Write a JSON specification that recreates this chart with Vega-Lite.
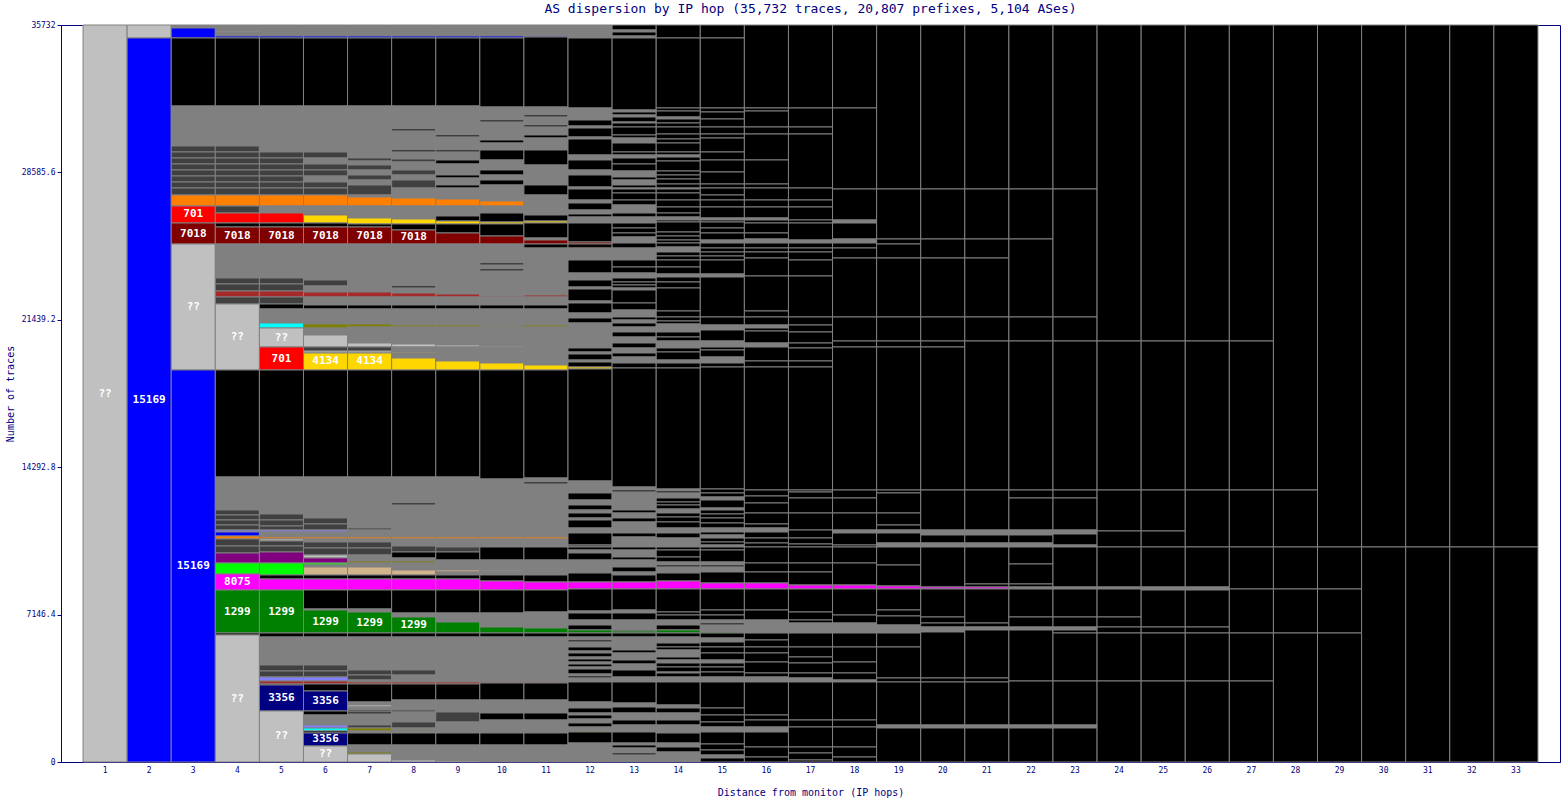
{
"$schema":"https://vega.github.io/schema/vega-lite/v6.json",
"width":1499,"height":737,
"autosize":{"type":"none"},
"padding":{"left":61,"top":25,"right":2,"bottom":38},
"background":"white",
"title":{"text":"AS dispersion by IP hop (35,732 traces, 20,807 prefixes, 5,104 ASes)","font":"DejaVu Sans Mono","fontSize":13,"fontWeight":"normal","color":"#000080","offset":5},
"config":{"view":{"stroke":"#000080","strokeWidth":1},"axis":{"labelFont":"DejaVu Sans Mono","titleFont":"DejaVu Sans Mono","labelColor":"#000080","titleColor":"#000080","domainColor":"#000080","tickColor":"#000080","titleFontWeight":"normal","grid":false}},
"datasets":{"d":[
{"h":1,"a":0,"b":35732,"c":"L","t":"??"},
{"h":2,"a":35102,"b":35732,"c":"L"},{"h":2,"a":0,"b":35102,"c":"B","t":"15169"},
{"h":3,"a":35587,"b":35732,"c":"G"},{"h":3,"a":35102,"b":35587,"c":"B"},{"h":3,"a":31805,"b":35102,"c":"K"},{"h":3,"a":29866,"b":31805,"c":"G"},{"h":3,"a":29575,"b":29866,"c":"D"},{"h":3,"a":29284,"b":29575,"c":"D"},{"h":3,"a":28993,"b":29284,"c":"D"},{"h":3,"a":28702,"b":28993,"c":"D"},{"h":3,"a":28411,"b":28702,"c":"D"},{"h":3,"a":28120,"b":28411,"c":"D"},{"h":3,"a":27829,"b":28120,"c":"D"},{"h":3,"a":27490,"b":27829,"c":"D"},{"h":3,"a":26957,"b":27490,"c":"O"},{"h":3,"a":26132,"b":26957,"c":"R","t":"701"},{"h":3,"a":25114,"b":26132,"c":"M","t":"7018"},{"h":3,"a":19005,"b":25114,"c":"L","t":"??"},{"h":3,"a":0,"b":19005,"c":"B","t":"15169"},
{"h":4,"a":35441,"b":35732,"c":"G"},{"h":4,"a":35393,"b":35441,"c":"L"},{"h":4,"a":35199,"b":35393,"c":"G"},{"h":4,"a":35102,"b":35199,"c":"B"},{"h":4,"a":31805,"b":35102,"c":"K"},{"h":4,"a":29866,"b":31805,"c":"G"},{"h":4,"a":29575,"b":29866,"c":"D"},{"h":4,"a":29284,"b":29575,"c":"D"},{"h":4,"a":28993,"b":29284,"c":"D"},{"h":4,"a":28702,"b":28993,"c":"D"},{"h":4,"a":28411,"b":28702,"c":"D"},{"h":4,"a":28120,"b":28411,"c":"D"},{"h":4,"a":27829,"b":28120,"c":"D"},{"h":4,"a":27490,"b":27829,"c":"D"},{"h":4,"a":26957,"b":27490,"c":"O"},{"h":4,"a":26617,"b":26957,"c":"D"},{"h":4,"a":26132,"b":26617,"c":"R"},{"h":4,"a":25938,"b":26132,"c":"K"},{"h":4,"a":25114,"b":25938,"c":"M","t":"7018"},{"h":4,"a":23466,"b":25114,"c":"G"},{"h":4,"a":23175,"b":23466,"c":"D"},{"h":4,"a":22836,"b":23175,"c":"D"},{"h":4,"a":22545,"b":22836,"c":"Br"},{"h":4,"a":22205,"b":22545,"c":"D"},{"h":4,"a":19005,"b":22205,"c":"L","t":"??"},{"h":4,"a":13818,"b":19005,"c":"K"},{"h":4,"a":12218,"b":13818,"c":"G"},{"h":4,"a":11975,"b":12218,"c":"D"},{"h":4,"a":11733,"b":11975,"c":"D"},{"h":4,"a":11490,"b":11733,"c":"D"},{"h":4,"a":11248,"b":11490,"c":"D"},{"h":4,"a":11151,"b":11248,"c":"S"},{"h":4,"a":10957,"b":11151,"c":"B"},{"h":4,"a":10812,"b":10957,"c":"O"},{"h":4,"a":10472,"b":10812,"c":"D"},{"h":4,"a":10133,"b":10472,"c":"D"},{"h":4,"a":9648,"b":10133,"c":"P"},{"h":4,"a":9115,"b":9648,"c":"Li"},{"h":4,"a":8339,"b":9115,"c":"Mg","t":"8075"},{"h":4,"a":6254,"b":8339,"c":"Gr","t":"1299"},{"h":4,"a":6157,"b":6254,"c":"K"},{"h":4,"a":0,"b":6157,"c":"L","t":"??"},
{"h":5,"a":35199,"b":35732,"c":"G"},{"h":5,"a":35102,"b":35199,"c":"B"},{"h":5,"a":31805,"b":35102,"c":"K"},{"h":5,"a":29866,"b":31805,"c":"G"},{"h":5,"a":29575,"b":29866,"c":"G"},{"h":5,"a":29284,"b":29575,"c":"D"},{"h":5,"a":28993,"b":29284,"c":"D"},{"h":5,"a":28702,"b":28993,"c":"D"},{"h":5,"a":28411,"b":28702,"c":"D"},{"h":5,"a":28120,"b":28411,"c":"D"},{"h":5,"a":27829,"b":28120,"c":"D"},{"h":5,"a":27490,"b":27829,"c":"D"},{"h":5,"a":26957,"b":27490,"c":"O"},{"h":5,"a":26617,"b":26957,"c":"G"},{"h":5,"a":26132,"b":26617,"c":"R"},{"h":5,"a":25938,"b":26132,"c":"K"},{"h":5,"a":25114,"b":25938,"c":"M","t":"7018"},{"h":5,"a":23466,"b":25114,"c":"G"},{"h":5,"a":23175,"b":23466,"c":"D"},{"h":5,"a":22836,"b":23175,"c":"D"},{"h":5,"a":22545,"b":22836,"c":"Br"},{"h":5,"a":22205,"b":22545,"c":"D"},{"h":5,"a":21963,"b":22205,"c":"K"},{"h":5,"a":21284,"b":21963,"c":"G"},{"h":5,"a":21042,"b":21284,"c":"C"},{"h":5,"a":20120,"b":21042,"c":"L","t":"??"},{"h":5,"a":19005,"b":20120,"c":"R","t":"701"},{"h":5,"a":13818,"b":19005,"c":"K"},{"h":5,"a":12024,"b":13818,"c":"G"},{"h":5,"a":11733,"b":12024,"c":"D"},{"h":5,"a":11442,"b":11733,"c":"D"},{"h":5,"a":11248,"b":11442,"c":"D"},{"h":5,"a":11151,"b":11248,"c":"S"},{"h":5,"a":10909,"b":11151,"c":"G"},{"h":5,"a":10812,"b":10909,"c":"O"},{"h":5,"a":10715,"b":10812,"c":"L"},{"h":5,"a":10472,"b":10715,"c":"D"},{"h":5,"a":10181,"b":10472,"c":"D"},{"h":5,"a":9648,"b":10181,"c":"P"},{"h":5,"a":9066,"b":9648,"c":"Li"},{"h":5,"a":8872,"b":9066,"c":"K"},{"h":5,"a":8339,"b":8872,"c":"Mg"},{"h":5,"a":6254,"b":8339,"c":"Gr","t":"1299"},{"h":5,"a":6060,"b":6254,"c":"K"},{"h":5,"a":4703,"b":6060,"c":"G"},{"h":5,"a":4412,"b":4703,"c":"D"},{"h":5,"a":4121,"b":4412,"c":"D"},{"h":5,"a":3927,"b":4121,"c":"S"},{"h":5,"a":3782,"b":3927,"c":"Br"},{"h":5,"a":3733,"b":3782,"c":"K"},{"h":5,"a":2473,"b":3733,"c":"N","t":"3356"},{"h":5,"a":0,"b":2473,"c":"L","t":"??"},
{"h":6,"a":35199,"b":35732,"c":"G"},{"h":6,"a":35102,"b":35199,"c":"B"},{"h":6,"a":31805,"b":35102,"c":"K"},{"h":6,"a":29866,"b":31805,"c":"G"},{"h":6,"a":29575,"b":29866,"c":"G"},{"h":6,"a":29284,"b":29575,"c":"D"},{"h":6,"a":28993,"b":29284,"c":"G"},{"h":6,"a":28702,"b":28993,"c":"D"},{"h":6,"a":28411,"b":28702,"c":"D"},{"h":6,"a":28120,"b":28411,"c":"G"},{"h":6,"a":27829,"b":28120,"c":"D"},{"h":6,"a":27490,"b":27829,"c":"D"},{"h":6,"a":26957,"b":27490,"c":"O"},{"h":6,"a":26569,"b":26957,"c":"G"},{"h":6,"a":26520,"b":26569,"c":"Br"},{"h":6,"a":26132,"b":26520,"c":"Y"},{"h":6,"a":25938,"b":26132,"c":"K"},{"h":6,"a":25114,"b":25938,"c":"M","t":"7018"},{"h":6,"a":23369,"b":25114,"c":"G"},{"h":6,"a":23078,"b":23369,"c":"D"},{"h":6,"a":22787,"b":23078,"c":"G"},{"h":6,"a":22545,"b":22787,"c":"Br"},{"h":6,"a":22157,"b":22545,"c":"G"},{"h":6,"a":21963,"b":22157,"c":"K"},{"h":6,"a":21236,"b":21963,"c":"G"},{"h":6,"a":21042,"b":21236,"c":"Ol"},{"h":6,"a":20702,"b":21042,"c":"G"},{"h":6,"a":20120,"b":20702,"c":"L"},{"h":6,"a":19927,"b":20120,"c":"D"},{"h":6,"a":19830,"b":19927,"c":"L"},{"h":6,"a":19005,"b":19830,"c":"Y","t":"4134"},{"h":6,"a":13818,"b":19005,"c":"K"},{"h":6,"a":11830,"b":13818,"c":"G"},{"h":6,"a":11539,"b":11830,"c":"D"},{"h":6,"a":11248,"b":11539,"c":"D"},{"h":6,"a":11151,"b":11248,"c":"S"},{"h":6,"a":10909,"b":11151,"c":"G"},{"h":6,"a":10812,"b":10909,"c":"O"},{"h":6,"a":10666,"b":10812,"c":"G"},{"h":6,"a":10375,"b":10666,"c":"D"},{"h":6,"a":10036,"b":10375,"c":"D"},{"h":6,"a":9891,"b":10036,"c":"L"},{"h":6,"a":9648,"b":9891,"c":"P"},{"h":6,"a":9551,"b":9648,"c":"Li"},{"h":6,"a":9454,"b":9551,"c":"G"},{"h":6,"a":9066,"b":9454,"c":"T"},{"h":6,"a":8872,"b":9066,"c":"K"},{"h":6,"a":8339,"b":8872,"c":"Mg"},{"h":6,"a":7418,"b":8339,"c":"K"},{"h":6,"a":7369,"b":7418,"c":"G"},{"h":6,"a":6254,"b":7369,"c":"Gr","t":"1299"},{"h":6,"a":6060,"b":6254,"c":"K"},{"h":6,"a":4703,"b":6060,"c":"G"},{"h":6,"a":4412,"b":4703,"c":"D"},{"h":6,"a":4121,"b":4412,"c":"D"},{"h":6,"a":3927,"b":4121,"c":"S"},{"h":6,"a":3782,"b":3927,"c":"Br"},{"h":6,"a":3442,"b":3782,"c":"K"},{"h":6,"a":2473,"b":3442,"c":"N","t":"3356"},{"h":6,"a":2279,"b":2473,"c":"K"},{"h":6,"a":1794,"b":2279,"c":"G"},{"h":6,"a":1648,"b":1794,"c":"S"},{"h":6,"a":1503,"b":1648,"c":"C"},{"h":6,"a":1406,"b":1503,"c":"K"},{"h":6,"a":776,"b":1406,"c":"N","t":"3356"},{"h":6,"a":0,"b":776,"c":"L","t":"??"},
{"h":7,"a":35199,"b":35732,"c":"G"},{"h":7,"a":35102,"b":35199,"c":"B"},{"h":7,"a":31805,"b":35102,"c":"K"},{"h":7,"a":29866,"b":31805,"c":"G"},{"h":7,"a":29284,"b":29866,"c":"G"},{"h":7,"a":29138,"b":29284,"c":"D"},{"h":7,"a":28944,"b":29138,"c":"G"},{"h":7,"a":28702,"b":28944,"c":"D"},{"h":7,"a":28460,"b":28702,"c":"G"},{"h":7,"a":28217,"b":28460,"c":"D"},{"h":7,"a":27975,"b":28217,"c":"G"},{"h":7,"a":27490,"b":27975,"c":"D"},{"h":7,"a":27393,"b":27490,"c":"G"},{"h":7,"a":26957,"b":27393,"c":"O"},{"h":7,"a":26375,"b":26957,"c":"G"},{"h":7,"a":26084,"b":26375,"c":"Y"},{"h":7,"a":25938,"b":26084,"c":"K"},{"h":7,"a":25114,"b":25938,"c":"M","t":"7018"},{"h":7,"a":22787,"b":25114,"c":"G"},{"h":7,"a":22545,"b":22787,"c":"Br"},{"h":7,"a":22157,"b":22545,"c":"G"},{"h":7,"a":21963,"b":22157,"c":"K"},{"h":7,"a":21236,"b":21963,"c":"G"},{"h":7,"a":21090,"b":21236,"c":"Ol"},{"h":7,"a":20314,"b":21090,"c":"G"},{"h":7,"a":20120,"b":20314,"c":"L"},{"h":7,"a":19927,"b":20120,"c":"D"},{"h":7,"a":19830,"b":19927,"c":"L"},{"h":7,"a":19005,"b":19830,"c":"Y","t":"4134"},{"h":7,"a":13818,"b":19005,"c":"K"},{"h":7,"a":11345,"b":13818,"c":"G"},{"h":7,"a":11248,"b":11345,"c":"D"},{"h":7,"a":10909,"b":11248,"c":"G"},{"h":7,"a":10812,"b":10909,"c":"O"},{"h":7,"a":10666,"b":10812,"c":"G"},{"h":7,"a":10375,"b":10666,"c":"D"},{"h":7,"a":10036,"b":10375,"c":"D"},{"h":7,"a":9745,"b":10036,"c":"G"},{"h":7,"a":9648,"b":9745,"c":"Ol"},{"h":7,"a":9454,"b":9648,"c":"G"},{"h":7,"a":9066,"b":9454,"c":"T"},{"h":7,"a":8872,"b":9066,"c":"K"},{"h":7,"a":8339,"b":8872,"c":"Mg"},{"h":7,"a":7418,"b":8339,"c":"K"},{"h":7,"a":7272,"b":7418,"c":"G"},{"h":7,"a":6254,"b":7272,"c":"Gr","t":"1299"},{"h":7,"a":6060,"b":6254,"c":"K"},{"h":7,"a":4460,"b":6060,"c":"G"},{"h":7,"a":4218,"b":4460,"c":"D"},{"h":7,"a":3976,"b":4218,"c":"D"},{"h":7,"a":3879,"b":3976,"c":"G"},{"h":7,"a":3782,"b":3879,"c":"Br"},{"h":7,"a":2909,"b":3782,"c":"K"},{"h":7,"a":2764,"b":2909,"c":"G"},{"h":7,"a":2667,"b":2764,"c":"L"},{"h":7,"a":2521,"b":2667,"c":"G"},{"h":7,"a":2424,"b":2521,"c":"D"},{"h":7,"a":2327,"b":2424,"c":"K"},{"h":7,"a":1794,"b":2327,"c":"G"},{"h":7,"a":1648,"b":1794,"c":"D"},{"h":7,"a":1503,"b":1648,"c":"Ol"},{"h":7,"a":1406,"b":1503,"c":"G"},{"h":7,"a":824,"b":1406,"c":"K"},{"h":7,"a":485,"b":824,"c":"G"},{"h":7,"a":388,"b":485,"c":"Ol"},{"h":7,"a":0,"b":388,"c":"L"},
{"h":8,"a":35199,"b":35732,"c":"G"},{"h":8,"a":35102,"b":35199,"c":"B"},{"h":8,"a":31805,"b":35102,"c":"K"},{"h":8,"a":30690,"b":31805,"c":"G"},{"h":8,"a":30593,"b":30690,"c":"K"},{"h":8,"a":29672,"b":30593,"c":"G"},{"h":8,"a":29575,"b":29672,"c":"K"},{"h":8,"a":29235,"b":29575,"c":"G"},{"h":8,"a":29090,"b":29235,"c":"D"},{"h":8,"a":28702,"b":29090,"c":"G"},{"h":8,"a":28460,"b":28702,"c":"D"},{"h":8,"a":28217,"b":28460,"c":"G"},{"h":8,"a":27829,"b":28217,"c":"D"},{"h":8,"a":27344,"b":27829,"c":"G"},{"h":8,"a":26957,"b":27344,"c":"O"},{"h":8,"a":26326,"b":26957,"c":"G"},{"h":8,"a":26084,"b":26326,"c":"Y"},{"h":8,"a":25793,"b":26084,"c":"K"},{"h":8,"a":25114,"b":25793,"c":"M","t":"7018"},{"h":8,"a":23078,"b":25114,"c":"G"},{"h":8,"a":22981,"b":23078,"c":"K"},{"h":8,"a":22739,"b":22981,"c":"G"},{"h":8,"a":22545,"b":22739,"c":"Br"},{"h":8,"a":22157,"b":22545,"c":"G"},{"h":8,"a":21963,"b":22157,"c":"K"},{"h":8,"a":21187,"b":21963,"c":"G"},{"h":8,"a":21090,"b":21187,"c":"Ol"},{"h":8,"a":20266,"b":21090,"c":"G"},{"h":8,"a":20120,"b":20266,"c":"L"},{"h":8,"a":19878,"b":20120,"c":"G"},{"h":8,"a":19830,"b":19878,"c":"Y"},{"h":8,"a":19587,"b":19830,"c":"G"},{"h":8,"a":19005,"b":19587,"c":"Y"},{"h":8,"a":13818,"b":19005,"c":"K"},{"h":8,"a":12557,"b":13818,"c":"G"},{"h":8,"a":12460,"b":12557,"c":"K"},{"h":8,"a":10909,"b":12460,"c":"G"},{"h":8,"a":10812,"b":10909,"c":"O"},{"h":8,"a":10472,"b":10812,"c":"G"},{"h":8,"a":10181,"b":10472,"c":"D"},{"h":8,"a":9891,"b":10181,"c":"K"},{"h":8,"a":9745,"b":9891,"c":"G"},{"h":8,"a":9648,"b":9745,"c":"Ol"},{"h":8,"a":9309,"b":9648,"c":"G"},{"h":8,"a":9066,"b":9309,"c":"T"},{"h":8,"a":8872,"b":9066,"c":"K"},{"h":8,"a":8339,"b":8872,"c":"Mg"},{"h":8,"a":7224,"b":8339,"c":"K"},{"h":8,"a":7030,"b":7224,"c":"G"},{"h":8,"a":6254,"b":7030,"c":"Gr","t":"1299"},{"h":8,"a":6060,"b":6254,"c":"K"},{"h":8,"a":4460,"b":6060,"c":"G"},{"h":8,"a":4218,"b":4460,"c":"D"},{"h":8,"a":3879,"b":4218,"c":"G"},{"h":8,"a":3782,"b":3879,"c":"Br"},{"h":8,"a":3006,"b":3782,"c":"K"},{"h":8,"a":2521,"b":3006,"c":"G"},{"h":8,"a":2424,"b":2521,"c":"D"},{"h":8,"a":1939,"b":2424,"c":"G"},{"h":8,"a":1648,"b":1939,"c":"D"},{"h":8,"a":1551,"b":1648,"c":"G"},{"h":8,"a":1503,"b":1551,"c":"Ol"},{"h":8,"a":1406,"b":1503,"c":"G"},{"h":8,"a":824,"b":1406,"c":"K"},{"h":8,"a":97,"b":824,"c":"G"},{"h":8,"a":0,"b":97,"c":"L"},
{"h":9,"a":35199,"b":35732,"c":"G"},{"h":9,"a":35102,"b":35199,"c":"B"},{"h":9,"a":31805,"b":35102,"c":"K"},{"h":9,"a":30399,"b":31805,"c":"G"},{"h":9,"a":30302,"b":30399,"c":"K"},{"h":9,"a":29672,"b":30302,"c":"G"},{"h":9,"a":29575,"b":29672,"c":"K"},{"h":9,"a":29187,"b":29575,"c":"G"},{"h":9,"a":28993,"b":29187,"c":"K"},{"h":9,"a":28460,"b":28993,"c":"G"},{"h":9,"a":28314,"b":28460,"c":"K"},{"h":9,"a":27975,"b":28314,"c":"G"},{"h":9,"a":27829,"b":27975,"c":"K"},{"h":9,"a":27296,"b":27829,"c":"G"},{"h":9,"a":26957,"b":27296,"c":"O"},{"h":9,"a":26472,"b":26957,"c":"G"},{"h":9,"a":26229,"b":26472,"c":"K"},{"h":9,"a":26084,"b":26229,"c":"Y"},{"h":9,"a":25648,"b":26084,"c":"K"},{"h":9,"a":25114,"b":25648,"c":"M"},{"h":9,"a":22690,"b":25114,"c":"G"},{"h":9,"a":22545,"b":22690,"c":"Br"},{"h":9,"a":22157,"b":22545,"c":"G"},{"h":9,"a":21963,"b":22157,"c":"K"},{"h":9,"a":21187,"b":21963,"c":"G"},{"h":9,"a":21090,"b":21187,"c":"Ol"},{"h":9,"a":20217,"b":21090,"c":"G"},{"h":9,"a":20120,"b":20217,"c":"L"},{"h":9,"a":19442,"b":20120,"c":"G"},{"h":9,"a":19005,"b":19442,"c":"Y"},{"h":9,"a":13818,"b":19005,"c":"K"},{"h":9,"a":10909,"b":13818,"c":"G"},{"h":9,"a":10812,"b":10909,"c":"O"},{"h":9,"a":10424,"b":10812,"c":"G"},{"h":9,"a":10181,"b":10424,"c":"D"},{"h":9,"a":9794,"b":10181,"c":"K"},{"h":9,"a":9309,"b":9794,"c":"G"},{"h":9,"a":9212,"b":9309,"c":"T"},{"h":9,"a":9066,"b":9212,"c":"G"},{"h":9,"a":8872,"b":9066,"c":"K"},{"h":9,"a":8339,"b":8872,"c":"Mg"},{"h":9,"a":7224,"b":8339,"c":"K"},{"h":9,"a":6788,"b":7224,"c":"G"},{"h":9,"a":6254,"b":6788,"c":"Gr"},{"h":9,"a":6060,"b":6254,"c":"K"},{"h":9,"a":3879,"b":6060,"c":"G"},{"h":9,"a":3782,"b":3879,"c":"Br"},{"h":9,"a":3006,"b":3782,"c":"K"},{"h":9,"a":2424,"b":3006,"c":"G"},{"h":9,"a":1939,"b":2424,"c":"D"},{"h":9,"a":1406,"b":1939,"c":"G"},{"h":9,"a":824,"b":1406,"c":"K"},{"h":9,"a":48,"b":824,"c":"G"},{"h":9,"a":0,"b":48,"c":"L"},
{"h":10,"a":35199,"b":35732,"c":"G"},{"h":10,"a":35102,"b":35199,"c":"B"},{"h":10,"a":31756,"b":35102,"c":"K"},{"h":10,"a":31126,"b":31756,"c":"G"},{"h":10,"a":31029,"b":31126,"c":"K"},{"h":10,"a":30156,"b":31029,"c":"G"},{"h":10,"a":30011,"b":30156,"c":"K"},{"h":10,"a":29672,"b":30011,"c":"G"},{"h":10,"a":29187,"b":29672,"c":"K"},{"h":10,"a":28702,"b":29187,"c":"G"},{"h":10,"a":28460,"b":28702,"c":"K"},{"h":10,"a":28217,"b":28460,"c":"G"},{"h":10,"a":27975,"b":28217,"c":"K"},{"h":10,"a":27199,"b":27975,"c":"G"},{"h":10,"a":26957,"b":27199,"c":"O"},{"h":10,"a":26617,"b":26957,"c":"G"},{"h":10,"a":26181,"b":26617,"c":"K"},{"h":10,"a":26084,"b":26181,"c":"Y"},{"h":10,"a":25502,"b":26084,"c":"K"},{"h":10,"a":25114,"b":25502,"c":"M"},{"h":10,"a":24193,"b":25114,"c":"G"},{"h":10,"a":24096,"b":24193,"c":"K"},{"h":10,"a":23902,"b":24096,"c":"G"},{"h":10,"a":23805,"b":23902,"c":"K"},{"h":10,"a":22593,"b":23805,"c":"G"},{"h":10,"a":22545,"b":22593,"c":"Br"},{"h":10,"a":22157,"b":22545,"c":"G"},{"h":10,"a":21963,"b":22157,"c":"K"},{"h":10,"a":21139,"b":21963,"c":"G"},{"h":10,"a":21090,"b":21139,"c":"Ol"},{"h":10,"a":20169,"b":21090,"c":"G"},{"h":10,"a":20120,"b":20169,"c":"L"},{"h":10,"a":19345,"b":20120,"c":"G"},{"h":10,"a":19005,"b":19345,"c":"Y"},{"h":10,"a":13721,"b":19005,"c":"K"},{"h":10,"a":10909,"b":13721,"c":"G"},{"h":10,"a":10812,"b":10909,"c":"O"},{"h":10,"a":10424,"b":10812,"c":"G"},{"h":10,"a":9794,"b":10424,"c":"K"},{"h":10,"a":9309,"b":9794,"c":"G"},{"h":10,"a":9260,"b":9309,"c":"T"},{"h":10,"a":9066,"b":9260,"c":"G"},{"h":10,"a":8775,"b":9066,"c":"K"},{"h":10,"a":8339,"b":8775,"c":"Mg"},{"h":10,"a":7224,"b":8339,"c":"K"},{"h":10,"a":6545,"b":7224,"c":"G"},{"h":10,"a":6254,"b":6545,"c":"Gr"},{"h":10,"a":6060,"b":6254,"c":"K"},{"h":10,"a":3879,"b":6060,"c":"G"},{"h":10,"a":3830,"b":3879,"c":"Br"},{"h":10,"a":3006,"b":3830,"c":"K"},{"h":10,"a":2376,"b":3006,"c":"G"},{"h":10,"a":2036,"b":2376,"c":"K"},{"h":10,"a":1406,"b":2036,"c":"G"},{"h":10,"a":824,"b":1406,"c":"K"},{"h":10,"a":0,"b":824,"c":"G"},
{"h":11,"a":35199,"b":35732,"c":"G"},{"h":11,"a":35150,"b":35199,"c":"B"},{"h":11,"a":31756,"b":35150,"c":"K"},{"h":11,"a":31369,"b":31756,"c":"G"},{"h":11,"a":31272,"b":31369,"c":"K"},{"h":11,"a":30884,"b":31272,"c":"G"},{"h":11,"a":30787,"b":30884,"c":"K"},{"h":11,"a":30399,"b":30787,"c":"G"},{"h":11,"a":30253,"b":30399,"c":"K"},{"h":11,"a":29672,"b":30253,"c":"G"},{"h":11,"a":28944,"b":29672,"c":"K"},{"h":11,"a":27975,"b":28944,"c":"G"},{"h":11,"a":27490,"b":27975,"c":"K"},{"h":11,"a":26520,"b":27490,"c":"G"},{"h":11,"a":26229,"b":26520,"c":"K"},{"h":11,"a":26132,"b":26229,"c":"Y"},{"h":11,"a":25405,"b":26132,"c":"K"},{"h":11,"a":25308,"b":25405,"c":"G"},{"h":11,"a":25114,"b":25308,"c":"M"},{"h":11,"a":24920,"b":25114,"c":"K"},{"h":11,"a":22642,"b":24920,"c":"G"},{"h":11,"a":22545,"b":22642,"c":"Br"},{"h":11,"a":22157,"b":22545,"c":"G"},{"h":11,"a":21963,"b":22157,"c":"K"},{"h":11,"a":21187,"b":21963,"c":"G"},{"h":11,"a":21090,"b":21187,"c":"Ol"},{"h":11,"a":19248,"b":21090,"c":"G"},{"h":11,"a":19005,"b":19248,"c":"Y"},{"h":11,"a":13769,"b":19005,"c":"K"},{"h":11,"a":13575,"b":13769,"c":"G"},{"h":11,"a":13478,"b":13575,"c":"K"},{"h":11,"a":10909,"b":13478,"c":"G"},{"h":11,"a":10812,"b":10909,"c":"O"},{"h":11,"a":10424,"b":10812,"c":"G"},{"h":11,"a":9794,"b":10424,"c":"K"},{"h":11,"a":9066,"b":9794,"c":"G"},{"h":11,"a":8727,"b":9066,"c":"K"},{"h":11,"a":8339,"b":8727,"c":"Mg"},{"h":11,"a":7272,"b":8339,"c":"K"},{"h":11,"a":6497,"b":7272,"c":"G"},{"h":11,"a":6254,"b":6497,"c":"Gr"},{"h":11,"a":6060,"b":6254,"c":"K"},{"h":11,"a":3879,"b":6060,"c":"G"},{"h":11,"a":3830,"b":3879,"c":"Br"},{"h":11,"a":3006,"b":3830,"c":"K"},{"h":11,"a":2376,"b":3006,"c":"G"},{"h":11,"a":2036,"b":2376,"c":"K"},{"h":11,"a":1406,"b":2036,"c":"G"},{"h":11,"a":824,"b":1406,"c":"K"},{"h":11,"a":0,"b":824,"c":"G"},
{"h":12,"a":35102,"b":35732,"c":"G"},{"h":12,"a":31708,"b":35102,"c":"K"},{"h":12,"a":31126,"b":31708,"c":"G"},{"h":12,"a":30835,"b":31126,"c":"K"},{"h":12,"a":30738,"b":30835,"c":"G"},{"h":12,"a":30302,"b":30738,"c":"K"},{"h":12,"a":30205,"b":30302,"c":"G"},{"h":12,"a":29429,"b":30205,"c":"K"},{"h":12,"a":29187,"b":29429,"c":"G"},{"h":12,"a":28702,"b":29187,"c":"K"},{"h":12,"a":28460,"b":28702,"c":"G"},{"h":12,"a":27878,"b":28460,"c":"K"},{"h":12,"a":27781,"b":27878,"c":"G"},{"h":12,"a":27247,"b":27781,"c":"K"},{"h":12,"a":27102,"b":27247,"c":"G"},{"h":12,"a":26763,"b":27102,"c":"K"},{"h":12,"a":26569,"b":26763,"c":"G"},{"h":12,"a":26423,"b":26569,"c":"K"},{"h":12,"a":26132,"b":26423,"c":"G"},{"h":12,"a":25211,"b":26132,"c":"K"},{"h":12,"a":25114,"b":25211,"c":"M"},{"h":12,"a":24920,"b":25114,"c":"K"},{"h":12,"a":24338,"b":24920,"c":"G"},{"h":12,"a":23708,"b":24338,"c":"K"},{"h":12,"a":23369,"b":23708,"c":"G"},{"h":12,"a":23029,"b":23369,"c":"K"},{"h":12,"a":22932,"b":23029,"c":"G"},{"h":12,"a":22351,"b":22932,"c":"K"},{"h":12,"a":22254,"b":22351,"c":"G"},{"h":12,"a":21769,"b":22254,"c":"K"},{"h":12,"a":21526,"b":21769,"c":"G"},{"h":12,"a":21284,"b":21526,"c":"K"},{"h":12,"a":20072,"b":21284,"c":"G"},{"h":12,"a":19878,"b":20072,"c":"K"},{"h":12,"a":19781,"b":19878,"c":"G"},{"h":12,"a":19490,"b":19781,"c":"K"},{"h":12,"a":19393,"b":19490,"c":"G"},{"h":12,"a":19151,"b":19393,"c":"K"},{"h":12,"a":19054,"b":19151,"c":"Y"},{"h":12,"a":13624,"b":19054,"c":"K"},{"h":12,"a":13042,"b":13624,"c":"G"},{"h":12,"a":12703,"b":13042,"c":"K"},{"h":12,"a":12460,"b":12703,"c":"G"},{"h":12,"a":12218,"b":12460,"c":"K"},{"h":12,"a":12072,"b":12218,"c":"G"},{"h":12,"a":11830,"b":12072,"c":"K"},{"h":12,"a":11733,"b":11830,"c":"G"},{"h":12,"a":11345,"b":11733,"c":"K"},{"h":12,"a":11103,"b":11345,"c":"G"},{"h":12,"a":10521,"b":11103,"c":"K"},{"h":12,"a":10424,"b":10521,"c":"D"},{"h":12,"a":10278,"b":10424,"c":"K"},{"h":12,"a":10133,"b":10278,"c":"G"},{"h":12,"a":9794,"b":10133,"c":"K"},{"h":12,"a":9163,"b":9794,"c":"G"},{"h":12,"a":8727,"b":9163,"c":"K"},{"h":12,"a":8388,"b":8727,"c":"Mg"},{"h":12,"a":7321,"b":8388,"c":"K"},{"h":12,"a":7224,"b":7321,"c":"G"},{"h":12,"a":6885,"b":7224,"c":"K"},{"h":12,"a":6642,"b":6885,"c":"G"},{"h":12,"a":6400,"b":6642,"c":"K"},{"h":12,"a":6254,"b":6400,"c":"Gr"},{"h":12,"a":6060,"b":6254,"c":"K"},{"h":12,"a":5915,"b":6060,"c":"G"},{"h":12,"a":5818,"b":5915,"c":"K"},{"h":12,"a":5576,"b":5818,"c":"G"},{"h":12,"a":5382,"b":5576,"c":"K"},{"h":12,"a":5285,"b":5382,"c":"G"},{"h":12,"a":5091,"b":5285,"c":"K"},{"h":12,"a":4994,"b":5091,"c":"G"},{"h":12,"a":4848,"b":4994,"c":"K"},{"h":12,"a":4751,"b":4848,"c":"G"},{"h":12,"a":4606,"b":4751,"c":"K"},{"h":12,"a":4509,"b":4606,"c":"G"},{"h":12,"a":4267,"b":4509,"c":"K"},{"h":12,"a":4170,"b":4267,"c":"G"},{"h":12,"a":4073,"b":4170,"c":"K"},{"h":12,"a":3879,"b":4073,"c":"G"},{"h":12,"a":2909,"b":3879,"c":"K"},{"h":12,"a":2618,"b":2909,"c":"G"},{"h":12,"a":2376,"b":2618,"c":"K"},{"h":12,"a":2279,"b":2376,"c":"G"},{"h":12,"a":2085,"b":2279,"c":"K"},{"h":12,"a":1891,"b":2085,"c":"G"},{"h":12,"a":1697,"b":1891,"c":"K"},{"h":12,"a":1503,"b":1697,"c":"G"},{"h":12,"a":1454,"b":1503,"c":"Ol"},{"h":12,"a":921,"b":1454,"c":"K"},{"h":12,"a":0,"b":921,"c":"G"},
{"h":13,"a":35490,"b":35732,"c":"K"},{"h":13,"a":35393,"b":35490,"c":"G"},{"h":13,"a":35199,"b":35393,"c":"K"},{"h":13,"a":35102,"b":35199,"c":"G"},{"h":13,"a":31611,"b":35102,"c":"K"},{"h":13,"a":31514,"b":31611,"c":"G"},{"h":13,"a":31369,"b":31514,"c":"K"},{"h":13,"a":31272,"b":31369,"c":"G"},{"h":13,"a":31029,"b":31272,"c":"K"},{"h":13,"a":30981,"b":31029,"c":"G"},{"h":13,"a":30787,"b":30981,"c":"K"},{"h":13,"a":30399,"b":30787,"c":"K"},{"h":13,"a":30253,"b":30399,"c":"K"},{"h":13,"a":30011,"b":30253,"c":"G"},{"h":13,"a":29575,"b":30011,"c":"K"},{"h":13,"a":29429,"b":29575,"c":"K"},{"h":13,"a":29284,"b":29429,"c":"G"},{"h":13,"a":28993,"b":29284,"c":"K"},{"h":13,"a":28653,"b":28993,"c":"K"},{"h":13,"a":28363,"b":28653,"c":"G"},{"h":13,"a":28217,"b":28363,"c":"K"},{"h":13,"a":27975,"b":28217,"c":"G"},{"h":13,"a":27829,"b":27975,"c":"K"},{"h":13,"a":27781,"b":27829,"c":"G"},{"h":13,"a":27587,"b":27781,"c":"K"},{"h":13,"a":27247,"b":27587,"c":"K"},{"h":13,"a":27005,"b":27247,"c":"K"},{"h":13,"a":26617,"b":27005,"c":"G"},{"h":13,"a":26423,"b":26617,"c":"K"},{"h":13,"a":26132,"b":26423,"c":"G"},{"h":13,"a":25890,"b":26132,"c":"K"},{"h":13,"a":25648,"b":25890,"c":"K"},{"h":13,"a":25454,"b":25648,"c":"K"},{"h":13,"a":25163,"b":25454,"c":"G"},{"h":13,"a":24920,"b":25163,"c":"K"},{"h":13,"a":24338,"b":24920,"c":"G"},{"h":13,"a":23999,"b":24338,"c":"K"},{"h":13,"a":23708,"b":23999,"c":"K"},{"h":13,"a":23466,"b":23708,"c":"G"},{"h":13,"a":23272,"b":23466,"c":"K"},{"h":13,"a":23126,"b":23272,"c":"K"},{"h":13,"a":22981,"b":23126,"c":"K"},{"h":13,"a":22884,"b":22981,"c":"G"},{"h":13,"a":22254,"b":22884,"c":"K"},{"h":13,"a":21914,"b":22254,"c":"K"},{"h":13,"a":21575,"b":21914,"c":"G"},{"h":13,"a":21429,"b":21575,"c":"K"},{"h":13,"a":21284,"b":21429,"c":"G"},{"h":13,"a":21090,"b":21284,"c":"K"},{"h":13,"a":20848,"b":21090,"c":"G"},{"h":13,"a":20605,"b":20848,"c":"K"},{"h":13,"a":20314,"b":20605,"c":"G"},{"h":13,"a":20072,"b":20314,"c":"K"},{"h":13,"a":19830,"b":20072,"c":"G"},{"h":13,"a":19636,"b":19830,"c":"K"},{"h":13,"a":19345,"b":19636,"c":"G"},{"h":13,"a":19102,"b":19345,"c":"K"},{"h":13,"a":13333,"b":19102,"c":"K"},{"h":13,"a":13187,"b":13333,"c":"G"},{"h":13,"a":13090,"b":13187,"c":"K"},{"h":13,"a":12218,"b":13090,"c":"G"},{"h":13,"a":12072,"b":12218,"c":"K"},{"h":13,"a":11830,"b":12072,"c":"G"},{"h":13,"a":11636,"b":11830,"c":"K"},{"h":13,"a":11103,"b":11636,"c":"G"},{"h":13,"a":10909,"b":11103,"c":"K"},{"h":13,"a":10424,"b":10909,"c":"G"},{"h":13,"a":10278,"b":10424,"c":"K"},{"h":13,"a":9939,"b":10278,"c":"G"},{"h":13,"a":9794,"b":9939,"c":"K"},{"h":13,"a":9454,"b":9794,"c":"G"},{"h":13,"a":9212,"b":9454,"c":"K"},{"h":13,"a":9066,"b":9212,"c":"G"},{"h":13,"a":8727,"b":9066,"c":"K"},{"h":13,"a":8388,"b":8727,"c":"Mg"},{"h":13,"a":7369,"b":8388,"c":"K"},{"h":13,"a":7224,"b":7369,"c":"G"},{"h":13,"a":6885,"b":7224,"c":"K"},{"h":13,"a":6400,"b":6885,"c":"G"},{"h":13,"a":6351,"b":6400,"c":"K"},{"h":13,"a":6254,"b":6351,"c":"Gr"},{"h":13,"a":6060,"b":6254,"c":"K"},{"h":13,"a":5430,"b":6060,"c":"G"},{"h":13,"a":5285,"b":5430,"c":"K"},{"h":13,"a":4945,"b":5285,"c":"G"},{"h":13,"a":4751,"b":4945,"c":"K"},{"h":13,"a":4460,"b":4751,"c":"G"},{"h":13,"a":4121,"b":4460,"c":"K"},{"h":13,"a":3879,"b":4121,"c":"G"},{"h":13,"a":2860,"b":3879,"c":"K"},{"h":13,"a":2667,"b":2860,"c":"G"},{"h":13,"a":2376,"b":2667,"c":"K"},{"h":13,"a":2036,"b":2376,"c":"G"},{"h":13,"a":1794,"b":2036,"c":"K"},{"h":13,"a":1454,"b":1794,"c":"G"},{"h":13,"a":921,"b":1454,"c":"K"},{"h":13,"a":824,"b":921,"c":"G"},{"h":13,"a":679,"b":824,"c":"K"},{"h":13,"a":436,"b":679,"c":"G"},{"h":13,"a":339,"b":436,"c":"K"},{"h":13,"a":0,"b":339,"c":"G"},
{"h":14,"a":35102,"b":35732,"c":"K"},{"h":14,"a":31708,"b":35102,"c":"K"},{"h":14,"a":31562,"b":31708,"c":"K"},{"h":14,"a":31272,"b":31562,"c":"K"},{"h":14,"a":31175,"b":31272,"c":"G"},{"h":14,"a":30981,"b":31175,"c":"K"},{"h":14,"a":30787,"b":30981,"c":"K"},{"h":14,"a":30447,"b":30787,"c":"K"},{"h":14,"a":30205,"b":30447,"c":"K"},{"h":14,"a":30011,"b":30205,"c":"K"},{"h":14,"a":29575,"b":30011,"c":"K"},{"h":14,"a":29429,"b":29575,"c":"K"},{"h":14,"a":29332,"b":29429,"c":"G"},{"h":14,"a":29138,"b":29332,"c":"K"},{"h":14,"a":28653,"b":29138,"c":"K"},{"h":14,"a":28460,"b":28653,"c":"K"},{"h":14,"a":28266,"b":28460,"c":"K"},{"h":14,"a":28023,"b":28266,"c":"K"},{"h":14,"a":27829,"b":28023,"c":"K"},{"h":14,"a":27781,"b":27829,"c":"G"},{"h":14,"a":27587,"b":27781,"c":"K"},{"h":14,"a":27247,"b":27587,"c":"K"},{"h":14,"a":26908,"b":27247,"c":"K"},{"h":14,"a":26617,"b":26908,"c":"K"},{"h":14,"a":26423,"b":26617,"c":"K"},{"h":14,"a":26278,"b":26423,"c":"G"},{"h":14,"a":26181,"b":26278,"c":"K"},{"h":14,"a":25696,"b":26181,"c":"K"},{"h":14,"a":25502,"b":25696,"c":"K"},{"h":14,"a":25308,"b":25502,"c":"K"},{"h":14,"a":25163,"b":25308,"c":"K"},{"h":14,"a":24969,"b":25163,"c":"K"},{"h":14,"a":24726,"b":24969,"c":"G"},{"h":14,"a":24532,"b":24726,"c":"K"},{"h":14,"a":24338,"b":24532,"c":"K"},{"h":14,"a":23999,"b":24338,"c":"K"},{"h":14,"a":23660,"b":23999,"c":"K"},{"h":14,"a":23514,"b":23660,"c":"G"},{"h":14,"a":23272,"b":23514,"c":"K"},{"h":14,"a":22981,"b":23272,"c":"K"},{"h":14,"a":21866,"b":22981,"c":"K"},{"h":14,"a":21575,"b":21866,"c":"K"},{"h":14,"a":21381,"b":21575,"c":"K"},{"h":14,"a":21236,"b":21381,"c":"K"},{"h":14,"a":20848,"b":21236,"c":"G"},{"h":14,"a":20605,"b":20848,"c":"K"},{"h":14,"a":20411,"b":20605,"c":"K"},{"h":14,"a":20072,"b":20411,"c":"G"},{"h":14,"a":19878,"b":20072,"c":"K"},{"h":14,"a":19490,"b":19878,"c":"K"},{"h":14,"a":19345,"b":19490,"c":"G"},{"h":14,"a":19102,"b":19345,"c":"K"},{"h":14,"a":13236,"b":19102,"c":"K"},{"h":14,"a":13139,"b":13236,"c":"G"},{"h":14,"a":13042,"b":13139,"c":"K"},{"h":14,"a":12800,"b":13042,"c":"G"},{"h":14,"a":12606,"b":12800,"c":"K"},{"h":14,"a":12460,"b":12606,"c":"K"},{"h":14,"a":12266,"b":12460,"c":"K"},{"h":14,"a":12072,"b":12266,"c":"G"},{"h":14,"a":11878,"b":12072,"c":"K"},{"h":14,"a":11636,"b":11878,"c":"K"},{"h":14,"a":11345,"b":11636,"c":"K"},{"h":14,"a":11103,"b":11345,"c":"G"},{"h":14,"a":10860,"b":11103,"c":"K"},{"h":14,"a":10424,"b":10860,"c":"G"},{"h":14,"a":10278,"b":10424,"c":"K"},{"h":14,"a":9939,"b":10278,"c":"K"},{"h":14,"a":9697,"b":9939,"c":"K"},{"h":14,"a":9551,"b":9697,"c":"G"},{"h":14,"a":9454,"b":9551,"c":"K"},{"h":14,"a":9163,"b":9454,"c":"G"},{"h":14,"a":8775,"b":9163,"c":"K"},{"h":14,"a":8388,"b":8775,"c":"Mg"},{"h":14,"a":7272,"b":8388,"c":"K"},{"h":14,"a":7127,"b":7272,"c":"K"},{"h":14,"a":6885,"b":7127,"c":"K"},{"h":14,"a":6642,"b":6885,"c":"G"},{"h":14,"a":6400,"b":6642,"c":"K"},{"h":14,"a":6254,"b":6400,"c":"Gr"},{"h":14,"a":6060,"b":6254,"c":"K"},{"h":14,"a":5769,"b":6060,"c":"G"},{"h":14,"a":5576,"b":5769,"c":"K"},{"h":14,"a":5430,"b":5576,"c":"K"},{"h":14,"a":5091,"b":5430,"c":"G"},{"h":14,"a":4945,"b":5091,"c":"K"},{"h":14,"a":4800,"b":4945,"c":"G"},{"h":14,"a":4606,"b":4800,"c":"K"},{"h":14,"a":4363,"b":4606,"c":"K"},{"h":14,"a":4315,"b":4363,"c":"G"},{"h":14,"a":4121,"b":4315,"c":"K"},{"h":14,"a":3879,"b":4121,"c":"G"},{"h":14,"a":2764,"b":3879,"c":"K"},{"h":14,"a":2618,"b":2764,"c":"G"},{"h":14,"a":2376,"b":2618,"c":"K"},{"h":14,"a":2036,"b":2376,"c":"G"},{"h":14,"a":1794,"b":2036,"c":"K"},{"h":14,"a":1406,"b":1794,"c":"G"},{"h":14,"a":921,"b":1406,"c":"K"},{"h":14,"a":727,"b":921,"c":"G"},{"h":14,"a":485,"b":727,"c":"K"},{"h":14,"a":0,"b":485,"c":"G"},
{"h":15,"a":35102,"b":35732,"c":"K"},{"h":15,"a":31708,"b":35102,"c":"K"},{"h":15,"a":31514,"b":31708,"c":"K"},{"h":15,"a":31175,"b":31514,"c":"K"},{"h":15,"a":30787,"b":31175,"c":"K"},{"h":15,"a":30447,"b":30787,"c":"K"},{"h":15,"a":30253,"b":30447,"c":"K"},{"h":15,"a":29575,"b":30253,"c":"K"},{"h":15,"a":29187,"b":29575,"c":"K"},{"h":15,"a":28605,"b":29187,"c":"K"},{"h":15,"a":28023,"b":28605,"c":"K"},{"h":15,"a":27829,"b":28023,"c":"K"},{"h":15,"a":27490,"b":27829,"c":"K"},{"h":15,"a":27247,"b":27490,"c":"K"},{"h":15,"a":26908,"b":27247,"c":"K"},{"h":15,"a":26375,"b":26908,"c":"K"},{"h":15,"a":26278,"b":26375,"c":"G"},{"h":15,"a":26181,"b":26278,"c":"K"},{"h":15,"a":25890,"b":26181,"c":"K"},{"h":15,"a":25648,"b":25890,"c":"K"},{"h":15,"a":25308,"b":25648,"c":"K"},{"h":15,"a":25163,"b":25308,"c":"G"},{"h":15,"a":24920,"b":25163,"c":"K"},{"h":15,"a":24726,"b":24920,"c":"K"},{"h":15,"a":24532,"b":24726,"c":"K"},{"h":15,"a":24338,"b":24532,"c":"K"},{"h":15,"a":23660,"b":24338,"c":"K"},{"h":15,"a":23514,"b":23660,"c":"G"},{"h":15,"a":21575,"b":23514,"c":"K"},{"h":15,"a":21187,"b":21575,"c":"K"},{"h":15,"a":20945,"b":21187,"c":"G"},{"h":15,"a":20411,"b":20945,"c":"K"},{"h":15,"a":20120,"b":20411,"c":"G"},{"h":15,"a":19975,"b":20120,"c":"K"},{"h":15,"a":19636,"b":19975,"c":"K"},{"h":15,"a":19345,"b":19636,"c":"G"},{"h":15,"a":19151,"b":19345,"c":"K"},{"h":15,"a":13236,"b":19151,"c":"K"},{"h":15,"a":13042,"b":13236,"c":"K"},{"h":15,"a":12848,"b":13042,"c":"K"},{"h":15,"a":12703,"b":12848,"c":"G"},{"h":15,"a":12315,"b":12703,"c":"K"},{"h":15,"a":12218,"b":12315,"c":"G"},{"h":15,"a":12024,"b":12218,"c":"K"},{"h":15,"a":11830,"b":12024,"c":"K"},{"h":15,"a":11587,"b":11830,"c":"K"},{"h":15,"a":11345,"b":11587,"c":"K"},{"h":15,"a":11151,"b":11345,"c":"G"},{"h":15,"a":11006,"b":11151,"c":"K"},{"h":15,"a":10860,"b":11006,"c":"G"},{"h":15,"a":10666,"b":10860,"c":"K"},{"h":15,"a":10521,"b":10666,"c":"K"},{"h":15,"a":10424,"b":10521,"c":"G"},{"h":15,"a":10278,"b":10424,"c":"K"},{"h":15,"a":9697,"b":10278,"c":"K"},{"h":15,"a":9551,"b":9697,"c":"G"},{"h":15,"a":9454,"b":9551,"c":"K"},{"h":15,"a":9212,"b":9454,"c":"G"},{"h":15,"a":8678,"b":9212,"c":"K"},{"h":15,"a":8388,"b":8678,"c":"Mg"},{"h":15,"a":7369,"b":8388,"c":"K"},{"h":15,"a":7127,"b":7369,"c":"K"},{"h":15,"a":6885,"b":7127,"c":"K"},{"h":15,"a":6739,"b":6885,"c":"G"},{"h":15,"a":6642,"b":6739,"c":"K"},{"h":15,"a":6303,"b":6642,"c":"G"},{"h":15,"a":6254,"b":6303,"c":"Gr"},{"h":15,"a":6012,"b":6254,"c":"K"},{"h":15,"a":5818,"b":6012,"c":"G"},{"h":15,"a":5576,"b":5818,"c":"K"},{"h":15,"a":5285,"b":5576,"c":"K"},{"h":15,"a":4945,"b":5285,"c":"K"},{"h":15,"a":4800,"b":4945,"c":"G"},{"h":15,"a":4606,"b":4800,"c":"K"},{"h":15,"a":4363,"b":4606,"c":"K"},{"h":15,"a":4121,"b":4363,"c":"K"},{"h":15,"a":3879,"b":4121,"c":"G"},{"h":15,"a":2618,"b":3879,"c":"K"},{"h":15,"a":2279,"b":2618,"c":"K"},{"h":15,"a":1939,"b":2279,"c":"K"},{"h":15,"a":1697,"b":1939,"c":"K"},{"h":15,"a":1454,"b":1697,"c":"G"},{"h":15,"a":873,"b":1454,"c":"K"},{"h":15,"a":582,"b":873,"c":"K"},{"h":15,"a":339,"b":582,"c":"K"},{"h":15,"a":194,"b":339,"c":"G"},{"h":15,"a":0,"b":194,"c":"K"},
{"h":16,"a":31708,"b":35732,"c":"K"},{"h":16,"a":31562,"b":31708,"c":"K"},{"h":16,"a":30787,"b":31562,"c":"K"},{"h":16,"a":30447,"b":30787,"c":"K"},{"h":16,"a":29187,"b":30447,"c":"K"},{"h":16,"a":28023,"b":29187,"c":"K"},{"h":16,"a":27829,"b":28023,"c":"K"},{"h":16,"a":27247,"b":27829,"c":"K"},{"h":16,"a":26908,"b":27247,"c":"K"},{"h":16,"a":26375,"b":26908,"c":"K"},{"h":16,"a":26278,"b":26375,"c":"G"},{"h":16,"a":26132,"b":26278,"c":"K"},{"h":16,"a":25648,"b":26132,"c":"K"},{"h":16,"a":25357,"b":25648,"c":"K"},{"h":16,"a":25163,"b":25357,"c":"G"},{"h":16,"a":24920,"b":25163,"c":"K"},{"h":16,"a":24726,"b":24920,"c":"K"},{"h":16,"a":24435,"b":24726,"c":"K"},{"h":16,"a":23563,"b":24435,"c":"K"},{"h":16,"a":21866,"b":23563,"c":"K"},{"h":16,"a":21575,"b":21866,"c":"K"},{"h":16,"a":21187,"b":21575,"c":"K"},{"h":16,"a":21042,"b":21187,"c":"G"},{"h":16,"a":20896,"b":21042,"c":"K"},{"h":16,"a":20314,"b":20896,"c":"K"},{"h":16,"a":20120,"b":20314,"c":"G"},{"h":16,"a":19442,"b":20120,"c":"K"},{"h":16,"a":19151,"b":19442,"c":"K"},{"h":16,"a":13187,"b":19151,"c":"K"},{"h":16,"a":12896,"b":13187,"c":"K"},{"h":16,"a":12557,"b":12896,"c":"K"},{"h":16,"a":12072,"b":12557,"c":"K"},{"h":16,"a":11539,"b":12072,"c":"K"},{"h":16,"a":11345,"b":11539,"c":"K"},{"h":16,"a":11151,"b":11345,"c":"G"},{"h":16,"a":10860,"b":11151,"c":"K"},{"h":16,"a":10618,"b":10860,"c":"K"},{"h":16,"a":10424,"b":10618,"c":"K"},{"h":16,"a":9648,"b":10424,"c":"K"},{"h":16,"a":9212,"b":9648,"c":"K"},{"h":16,"a":8678,"b":9212,"c":"K"},{"h":16,"a":8388,"b":8678,"c":"Mg"},{"h":16,"a":7369,"b":8388,"c":"K"},{"h":16,"a":6885,"b":7369,"c":"K"},{"h":16,"a":6254,"b":6885,"c":"G"},{"h":16,"a":5915,"b":6254,"c":"K"},{"h":16,"a":5576,"b":5915,"c":"K"},{"h":16,"a":5285,"b":5576,"c":"K"},{"h":16,"a":4848,"b":5285,"c":"K"},{"h":16,"a":4315,"b":4848,"c":"K"},{"h":16,"a":4121,"b":4315,"c":"K"},{"h":16,"a":3879,"b":4121,"c":"G"},{"h":16,"a":2279,"b":3879,"c":"K"},{"h":16,"a":2036,"b":2279,"c":"K"},{"h":16,"a":1697,"b":2036,"c":"K"},{"h":16,"a":1454,"b":1697,"c":"G"},{"h":16,"a":727,"b":1454,"c":"K"},{"h":16,"a":242,"b":727,"c":"K"},{"h":16,"a":0,"b":242,"c":"K"},
{"h":17,"a":31708,"b":35732,"c":"K"},{"h":17,"a":30787,"b":31708,"c":"K"},{"h":17,"a":30447,"b":30787,"c":"K"},{"h":17,"a":27829,"b":30447,"c":"K"},{"h":17,"a":27247,"b":27829,"c":"K"},{"h":17,"a":26908,"b":27247,"c":"K"},{"h":17,"a":26278,"b":26908,"c":"K"},{"h":17,"a":26132,"b":26278,"c":"K"},{"h":17,"a":25308,"b":26132,"c":"K"},{"h":17,"a":25163,"b":25308,"c":"G"},{"h":17,"a":24920,"b":25163,"c":"K"},{"h":17,"a":24726,"b":24920,"c":"K"},{"h":17,"a":24338,"b":24726,"c":"K"},{"h":17,"a":23563,"b":24338,"c":"K"},{"h":17,"a":21575,"b":23563,"c":"K"},{"h":17,"a":21187,"b":21575,"c":"K"},{"h":17,"a":20848,"b":21187,"c":"K"},{"h":17,"a":20314,"b":20848,"c":"K"},{"h":17,"a":20072,"b":20314,"c":"K"},{"h":17,"a":19442,"b":20072,"c":"K"},{"h":17,"a":19151,"b":19442,"c":"K"},{"h":17,"a":13187,"b":19151,"c":"K"},{"h":17,"a":13090,"b":13187,"c":"K"},{"h":17,"a":12800,"b":13090,"c":"K"},{"h":17,"a":12072,"b":12800,"c":"K"},{"h":17,"a":11248,"b":12072,"c":"K"},{"h":17,"a":10860,"b":11248,"c":"K"},{"h":17,"a":10569,"b":10860,"c":"K"},{"h":17,"a":10424,"b":10569,"c":"K"},{"h":17,"a":9648,"b":10424,"c":"K"},{"h":17,"a":9212,"b":9648,"c":"K"},{"h":17,"a":8581,"b":9212,"c":"K"},{"h":17,"a":8388,"b":8581,"c":"Mg"},{"h":17,"a":7272,"b":8388,"c":"K"},{"h":17,"a":6885,"b":7272,"c":"K"},{"h":17,"a":6739,"b":6885,"c":"K"},{"h":17,"a":6254,"b":6739,"c":"G"},{"h":17,"a":5576,"b":6254,"c":"K"},{"h":17,"a":5091,"b":5576,"c":"K"},{"h":17,"a":4800,"b":5091,"c":"K"},{"h":17,"a":4315,"b":4800,"c":"K"},{"h":17,"a":4073,"b":4315,"c":"K"},{"h":17,"a":3879,"b":4073,"c":"G"},{"h":17,"a":2036,"b":3879,"c":"K"},{"h":17,"a":1697,"b":2036,"c":"K"},{"h":17,"a":727,"b":1697,"c":"K"},{"h":17,"a":436,"b":727,"c":"K"},{"h":17,"a":97,"b":436,"c":"K"},{"h":17,"a":0,"b":97,"c":"K"},
{"h":18,"a":31708,"b":35732,"c":"K"},{"h":18,"a":27781,"b":31708,"c":"K"},{"h":18,"a":26278,"b":27781,"c":"K"},{"h":18,"a":26132,"b":26278,"c":"G"},{"h":18,"a":25357,"b":26132,"c":"K"},{"h":18,"a":25163,"b":25357,"c":"G"},{"h":18,"a":24920,"b":25163,"c":"K"},{"h":18,"a":24435,"b":24920,"c":"K"},{"h":18,"a":21575,"b":24435,"c":"K"},{"h":18,"a":20411,"b":21575,"c":"K"},{"h":18,"a":20120,"b":20411,"c":"K"},{"h":18,"a":13187,"b":20120,"c":"K"},{"h":18,"a":12800,"b":13187,"c":"K"},{"h":18,"a":12072,"b":12800,"c":"K"},{"h":18,"a":11248,"b":12072,"c":"K"},{"h":18,"a":11103,"b":11248,"c":"G"},{"h":18,"a":10521,"b":11103,"c":"K"},{"h":18,"a":10424,"b":10521,"c":"K"},{"h":18,"a":9648,"b":10424,"c":"K"},{"h":18,"a":8581,"b":9648,"c":"K"},{"h":18,"a":8388,"b":8581,"c":"Mg"},{"h":18,"a":7127,"b":8388,"c":"K"},{"h":18,"a":6739,"b":7127,"c":"K"},{"h":18,"a":6254,"b":6739,"c":"G"},{"h":18,"a":5576,"b":6254,"c":"K"},{"h":18,"a":4848,"b":5576,"c":"K"},{"h":18,"a":4315,"b":4848,"c":"K"},{"h":18,"a":3976,"b":4315,"c":"K"},{"h":18,"a":3879,"b":3976,"c":"G"},{"h":18,"a":2036,"b":3879,"c":"K"},{"h":18,"a":1697,"b":2036,"c":"K"},{"h":18,"a":727,"b":1697,"c":"K"},{"h":18,"a":242,"b":727,"c":"K"},{"h":18,"a":0,"b":242,"c":"K"},
{"h":19,"a":27781,"b":35732,"c":"K"},{"h":19,"a":25357,"b":27781,"c":"K"},{"h":19,"a":25114,"b":25357,"c":"K"},{"h":19,"a":24435,"b":25114,"c":"K"},{"h":19,"a":21575,"b":24435,"c":"K"},{"h":19,"a":20411,"b":21575,"c":"K"},{"h":19,"a":20120,"b":20411,"c":"K"},{"h":19,"a":13187,"b":20120,"c":"K"},{"h":19,"a":13042,"b":13187,"c":"K"},{"h":19,"a":12072,"b":13042,"c":"K"},{"h":19,"a":11490,"b":12072,"c":"K"},{"h":19,"a":11248,"b":11490,"c":"K"},{"h":19,"a":11103,"b":11248,"c":"G"},{"h":19,"a":10618,"b":11103,"c":"K"},{"h":19,"a":10424,"b":10618,"c":"G"},{"h":19,"a":9551,"b":10424,"c":"K"},{"h":19,"a":8533,"b":9551,"c":"K"},{"h":19,"a":8388,"b":8533,"c":"Mg"},{"h":19,"a":7369,"b":8388,"c":"K"},{"h":19,"a":7079,"b":7369,"c":"K"},{"h":19,"a":6642,"b":7079,"c":"K"},{"h":19,"a":6254,"b":6642,"c":"G"},{"h":19,"a":5576,"b":6254,"c":"K"},{"h":19,"a":4073,"b":5576,"c":"K"},{"h":19,"a":3879,"b":4073,"c":"K"},{"h":19,"a":1794,"b":3879,"c":"K"},{"h":19,"a":1648,"b":1794,"c":"G"},{"h":19,"a":0,"b":1648,"c":"K"},
{"h":20,"a":27781,"b":35732,"c":"K"},{"h":20,"a":25357,"b":27781,"c":"K"},{"h":20,"a":24435,"b":25357,"c":"K"},{"h":20,"a":21575,"b":24435,"c":"K"},{"h":20,"a":20411,"b":21575,"c":"K"},{"h":20,"a":20120,"b":20411,"c":"K"},{"h":20,"a":13187,"b":20120,"c":"K"},{"h":20,"a":11248,"b":13187,"c":"K"},{"h":20,"a":11006,"b":11248,"c":"G"},{"h":20,"a":10618,"b":11006,"c":"K"},{"h":20,"a":10424,"b":10618,"c":"G"},{"h":20,"a":8485,"b":10424,"c":"K"},{"h":20,"a":8388,"b":8485,"c":"Mg"},{"h":20,"a":7030,"b":8388,"c":"K"},{"h":20,"a":6739,"b":7030,"c":"K"},{"h":20,"a":6545,"b":6739,"c":"K"},{"h":20,"a":6303,"b":6545,"c":"G"},{"h":20,"a":4073,"b":6303,"c":"K"},{"h":20,"a":3879,"b":4073,"c":"K"},{"h":20,"a":1794,"b":3879,"c":"K"},{"h":20,"a":1648,"b":1794,"c":"G"},{"h":20,"a":0,"b":1648,"c":"K"},
{"h":21,"a":27781,"b":35732,"c":"K"},{"h":21,"a":25357,"b":27781,"c":"K"},{"h":21,"a":24435,"b":25357,"c":"K"},{"h":21,"a":21575,"b":24435,"c":"K"},{"h":21,"a":20411,"b":21575,"c":"K"},{"h":21,"a":13187,"b":20411,"c":"K"},{"h":21,"a":11248,"b":13187,"c":"K"},{"h":21,"a":11006,"b":11248,"c":"G"},{"h":21,"a":10618,"b":11006,"c":"K"},{"h":21,"a":10424,"b":10618,"c":"G"},{"h":21,"a":8630,"b":10424,"c":"K"},{"h":21,"a":8485,"b":8630,"c":"K"},{"h":21,"a":8388,"b":8485,"c":"Mg"},{"h":21,"a":6739,"b":8388,"c":"K"},{"h":21,"a":6545,"b":6739,"c":"K"},{"h":21,"a":6400,"b":6545,"c":"G"},{"h":21,"a":4073,"b":6400,"c":"K"},{"h":21,"a":3879,"b":4073,"c":"K"},{"h":21,"a":1794,"b":3879,"c":"K"},{"h":21,"a":1648,"b":1794,"c":"G"},{"h":21,"a":0,"b":1648,"c":"K"},
{"h":22,"a":27781,"b":35732,"c":"K"},{"h":22,"a":25357,"b":27781,"c":"K"},{"h":22,"a":21575,"b":25357,"c":"K"},{"h":22,"a":20411,"b":21575,"c":"K"},{"h":22,"a":13187,"b":20411,"c":"K"},{"h":22,"a":12800,"b":13187,"c":"K"},{"h":22,"a":11248,"b":12800,"c":"K"},{"h":22,"a":11006,"b":11248,"c":"G"},{"h":22,"a":10618,"b":11006,"c":"K"},{"h":22,"a":10424,"b":10618,"c":"G"},{"h":22,"a":9600,"b":10424,"c":"K"},{"h":22,"a":8630,"b":9600,"c":"K"},{"h":22,"a":8485,"b":8630,"c":"K"},{"h":22,"a":8388,"b":8485,"c":"G"},{"h":22,"a":7030,"b":8388,"c":"K"},{"h":22,"a":6545,"b":7030,"c":"K"},{"h":22,"a":6400,"b":6545,"c":"G"},{"h":22,"a":3927,"b":6400,"c":"K"},{"h":22,"a":1794,"b":3927,"c":"K"},{"h":22,"a":1648,"b":1794,"c":"G"},{"h":22,"a":0,"b":1648,"c":"K"},
{"h":23,"a":27781,"b":35732,"c":"K"},{"h":23,"a":21575,"b":27781,"c":"K"},{"h":23,"a":20411,"b":21575,"c":"K"},{"h":23,"a":13187,"b":20411,"c":"K"},{"h":23,"a":12800,"b":13187,"c":"K"},{"h":23,"a":11248,"b":12800,"c":"K"},{"h":23,"a":11054,"b":11248,"c":"G"},{"h":23,"a":10521,"b":11054,"c":"K"},{"h":23,"a":10424,"b":10521,"c":"G"},{"h":23,"a":8485,"b":10424,"c":"K"},{"h":23,"a":8388,"b":8485,"c":"G"},{"h":23,"a":7030,"b":8388,"c":"K"},{"h":23,"a":6545,"b":7030,"c":"K"},{"h":23,"a":6400,"b":6545,"c":"G"},{"h":23,"a":6254,"b":6400,"c":"K"},{"h":23,"a":3927,"b":6254,"c":"K"},{"h":23,"a":1794,"b":3927,"c":"K"},{"h":23,"a":1648,"b":1794,"c":"G"},{"h":23,"a":0,"b":1648,"c":"K"},
{"h":24,"a":20411,"b":35732,"c":"K"},{"h":24,"a":13187,"b":20411,"c":"K"},{"h":24,"a":11200,"b":13187,"c":"K"},{"h":24,"a":10424,"b":11200,"c":"K"},{"h":24,"a":8485,"b":10424,"c":"K"},{"h":24,"a":8388,"b":8485,"c":"G"},{"h":24,"a":7030,"b":8388,"c":"K"},{"h":24,"a":6545,"b":7030,"c":"K"},{"h":24,"a":6254,"b":6545,"c":"K"},{"h":24,"a":3927,"b":6254,"c":"K"},{"h":24,"a":0,"b":3927,"c":"K"},
{"h":25,"a":20411,"b":35732,"c":"K"},{"h":25,"a":13187,"b":20411,"c":"K"},{"h":25,"a":11200,"b":13187,"c":"K"},{"h":25,"a":10424,"b":11200,"c":"K"},{"h":25,"a":8485,"b":10424,"c":"K"},{"h":25,"a":8339,"b":8485,"c":"G"},{"h":25,"a":6545,"b":8339,"c":"K"},{"h":25,"a":6254,"b":6545,"c":"K"},{"h":25,"a":3927,"b":6254,"c":"K"},{"h":25,"a":0,"b":3927,"c":"K"},
{"h":26,"a":20411,"b":35732,"c":"K"},{"h":26,"a":13187,"b":20411,"c":"K"},{"h":26,"a":10424,"b":13187,"c":"K"},{"h":26,"a":8485,"b":10424,"c":"K"},{"h":26,"a":8339,"b":8485,"c":"G"},{"h":26,"a":6545,"b":8339,"c":"K"},{"h":26,"a":6254,"b":6545,"c":"K"},{"h":26,"a":3927,"b":6254,"c":"K"},{"h":26,"a":0,"b":3927,"c":"K"},
{"h":27,"a":20411,"b":35732,"c":"K"},{"h":27,"a":13187,"b":20411,"c":"K"},{"h":27,"a":10424,"b":13187,"c":"K"},{"h":27,"a":8388,"b":10424,"c":"K"},{"h":27,"a":6254,"b":8388,"c":"K"},{"h":27,"a":3927,"b":6254,"c":"K"},{"h":27,"a":0,"b":3927,"c":"K"},
{"h":28,"a":13187,"b":35732,"c":"K"},{"h":28,"a":10424,"b":13187,"c":"K"},{"h":28,"a":8388,"b":10424,"c":"K"},{"h":28,"a":6254,"b":8388,"c":"K"},{"h":28,"a":0,"b":6254,"c":"K"},
{"h":29,"a":10424,"b":35732,"c":"K"},{"h":29,"a":8388,"b":10424,"c":"K"},{"h":29,"a":6254,"b":8388,"c":"K"},{"h":29,"a":0,"b":6254,"c":"K"},
{"h":30,"a":10424,"b":35732,"c":"K"},{"h":30,"a":0,"b":10424,"c":"K"},
{"h":31,"a":10424,"b":35732,"c":"K"},{"h":31,"a":0,"b":10424,"c":"K"},
{"h":32,"a":10424,"b":35732,"c":"K"},{"h":32,"a":0,"b":10424,"c":"K"},
{"h":33,"a":10424,"b":35732,"c":"K"},{"h":33,"a":0,"b":10424,"c":"K"}
]},
"data":{"name":"d"},
"encoding":{
"x":{"field":"h","type":"ordinal","scale":{"domain":[1,2,3,4,5,6,7,8,9,10,11,12,13,14,15,16,17,18,19,20,21,22,23,24,25,26,27,28,29,30,31,32,33],"paddingInner":0,"paddingOuter":0.5},"axis":{"title":"Distance from monitor (IP hops)","labelAngle":0,"labelFontSize":8,"titleFontSize":10,"ticks":false,"labelPadding":4,"titlePadding":13}}
},
"layer":[
{"mark":{"type":"bar","stroke":"#808080","strokeWidth":1},
"encoding":{
"y":{"field":"a","type":"quantitative","scale":{"domain":[0,35732],"nice":false,"zero":true},"axis":{"title":"Number of traces","values":[0,7146.4,14292.8,21439.2,28585.6,35732],"labelExpr":"datum.value + ''","labelFontSize":8,"titleFontSize":10,"tickSize":4,"labelPadding":2,"titlePadding":6}},
"y2":{"field":"b"},
"color":{"field":"c","type":"nominal","legend":null,"scale":{"domain":["L","B","K","G","D","O","R","M","Br","C","Ol","Y","P","Li","Mg","Gr","N","S","T"],"range":["#c0c0c0","#0000ff","#000000","#808080","#404040","#ff8000","#ff0000","#800000","#a52a2a","#00ffff","#808000","#ffd700","#800080","#00ff00","#ff00ff","#008000","#000080","#8080ff","#d2b48c"]}}
}},
{"transform":[{"filter":"datum.t"},{"calculate":"(datum.a + datum.b) / 2","as":"m"}],
"mark":{"type":"text","font":"DejaVu Sans Mono","fontSize":11,"fontWeight":"bold","color":"white","align":"center","baseline":"middle"},
"encoding":{"y":{"field":"m","type":"quantitative"},"text":{"field":"t"}}}
]
}
